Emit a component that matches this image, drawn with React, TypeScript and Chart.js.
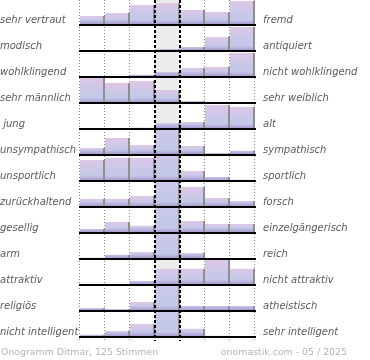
import React, { useEffect, useRef } from 'react';
import { Chart, registerables } from 'chart.js';

Chart.register(...registerables);

// Left / right poles of each semantic differential row
const leftLabels = [
  'sehr vertraut', 'modisch', 'wohlklingend', 'sehr männlich', ' jung', 'unsympathisch',
  'unsportlich', 'zurückhaltend', 'gesellig', 'arm', 'attraktiv', 'religiös', 'nicht intelligent',
];
const rightLabels = [
  'fremd', 'antiquiert', 'nicht wohlklingend', 'sehr weiblich', 'alt', 'sympathisch',
  'sportlich', 'forsch', 'einzelgängerisch', 'reich', 'nicht attraktiv', 'atheistisch', 'sehr intelligent',
];
const steps = ['1', '2', '3', '4', '5', '6', '7'];

// Bar heights per row (row full height = 25, higher values are cut off)
const vertraut = [9, 12, 20, 22, 15, 13, 24];
const modisch = [0, 0, 0, 2, 4, 14, 24];
const wohlklingend = [0, 1, 2.5, 5, 9, 10, 24];
const maennlich = [25, 20, 22, 13, 2, 0, 0];
const jung = [0, 0, 1.5, 6, 7, 24, 22];
const unsympathisch = [7, 17, 10, 45, 9, 2, 4.5];
const unsportlich = [21, 23.5, 23.5, 45, 10, 4, 1.5];
const zurueckhaltend = [8, 8, 11, 45, 20, 9, 6];
const gesellig = [4, 11, 7.5, 45, 12, 9, 9];
const arm = [1.5, 4.5, 7, 45, 6, 0, 0];
const attraktiv = [0, 0, 4, 16, 16.5, 25, 16.5];
const religioes = [3, 2, 9, 45, 5, 5, 5];
const intelligent = [2.5, 6, 13, 45, 8.5, 1.5, 0];

const rows = [
  vertraut, modisch, wohlklingend, maennlich, jung, unsympathisch, unsportlich,
  zurueckhaltend, gesellig, arm, attraktiv, religioes, intelligent,
];

const ROW = 26;
const MAXH = 25;
const N = rows.length;
const YMAX = N * ROW;
const rowBase = (i: number) => (N - 1 - i) * ROW + 1;
const LABEL_OFFSET = 4.5;

const fontLabel = { family: 'DejaVu Sans', size: 10, style: 'italic' as const };

const decor = {
  id: 'decor',
  beforeDatasetsDraw(chart: any) {
    const { ctx, chartArea: a } = chart;
    const w = (a.right - a.left) / 7;
    ctx.save();
    ctx.fillStyle = '#ececec';
    ctx.fillRect(a.left + 3 * w, a.top, w, a.bottom - a.top);
    ctx.strokeStyle = '#8a8a8a';
    ctx.lineWidth = 1;
    ctx.setLineDash([1, 2]);
    [0, 1, 2, 5, 6, 7].forEach((k) => {
      const x = Math.round(a.left + k * w) - 0.5;
      ctx.beginPath();
      ctx.moveTo(x, a.top);
      ctx.lineTo(x, a.bottom + 3);
      ctx.stroke();
    });
    ctx.restore();
  },
  afterDatasetsDraw(chart: any) {
    const { ctx, chartArea: a, scales } = chart;
    const w = (a.right - a.left) / 7;
    ctx.save();
    ctx.fillStyle = '#000';
    rows.forEach((_, i) => {
      const y = scales.y.getPixelForValue(rowBase(i));
      ctx.fillRect(a.left - 1, y - 1, a.right - a.left + 2, 2);
    });
    ctx.strokeStyle = '#000';
    ctx.lineWidth = 2;
    ctx.setLineDash([3, 2]);
    [3, 4].forEach((k) => {
      const x = Math.round(a.left + k * w);
      ctx.beginPath();
      ctx.moveTo(x, a.top);
      ctx.lineTo(x, a.bottom + 3);
      ctx.stroke();
    });
    ctx.restore();
  },
};

function barGradient(c: any, rowIndex: number) {
  const chart = c.chart;
  const ys = chart.scales && chart.scales.y;
  if (!ys || c.type !== 'data') return '#c4c9e8';
  const v = rows[rowIndex][c.dataIndex];
  const base = rowBase(rowIndex);
  const yb = ys.getPixelForValue(base);
  const yt = ys.getPixelForValue(base + v);
  const h = yb - yt;
  if (!isFinite(h) || h <= 0.5) return '#a898cc';
  const g = chart.ctx.createLinearGradient(0, yt, 0, yb);
  const p = Math.max(0, (h - 5) / h);
  g.addColorStop(0, '#dfc6e6');
  g.addColorStop(Math.min(0.5, p), '#c9c8e8');
  g.addColorStop(p, '#c2c8e8');
  g.addColorStop(1, '#a290c8');
  return g;
}

function rowTicks(axis: any) {
  axis.ticks = rows.map((_, i) => ({ value: rowBase(i) + LABEL_OFFSET }));
}

export default function App() {
  const ref = useRef<HTMLCanvasElement | null>(null);

  useEffect(() => {
    if (!ref.current) return;
    const datasets = rows.map((vals, i) => ({
      label: leftLabels[i],
      data: vals.map((v) => [rowBase(i), rowBase(i) + Math.min(v, MAXH)]),
      backgroundColor: (c: any) => barGradient(c, i),
      borderColor: '#8e8e8e',
      borderWidth: { top: 0, left: 0, bottom: 0, right: 2 },
      borderSkipped: false,
      grouped: false,
      barPercentage: 1,
      categoryPercentage: 1,
      inflateAmount: 0,
    }));
    const chart = new Chart(ref.current, {
      type: 'bar',
      data: { labels: steps, datasets: datasets as any },
      options: {
        animation: false,
        responsive: true,
        maintainAspectRatio: false,
        layout: { padding: { top: 0, bottom: 22, left: 0, right: 0 } },
        plugins: { legend: { display: false }, tooltip: { enabled: false } },
        scales: {
          x: { display: false, offset: true, grid: { display: false } },
          y: {
            position: 'left',
            min: 0,
            max: YMAX,
            grid: { display: false, drawTicks: false },
            border: { display: false },
            afterBuildTicks: rowTicks,
            afterFit: (axis: any) => {
              axis.width = 80;
              axis.paddingTop = 0;
              axis.paddingBottom = 0;
            },
            ticks: {
              autoSkip: false,
              crossAlign: 'far',
              padding: 3,
              color: '#5a5a5a',
              font: fontLabel,
              callback: (_v: any, idx: number) => leftLabels[idx],
            },
          },
          y2: {
            position: 'right',
            min: 0,
            max: YMAX,
            grid: { display: false, drawTicks: false },
            border: { display: false },
            afterBuildTicks: rowTicks,
            afterFit: (axis: any) => {
              axis.width = 115;
              axis.paddingTop = 0;
              axis.paddingBottom = 0;
            },
            ticks: {
              autoSkip: false,
              crossAlign: 'near',
              padding: 8,
              color: '#5a5a5a',
              font: fontLabel,
              callback: (_v: any, idx: number) => rightLabels[idx],
            },
          },
        },
      } as any,
      plugins: [decor],
    });
    return () => chart.destroy();
  }, []);

  const footer: React.CSSProperties = {
    position: 'absolute',
    top: 347,
    fontFamily: 'DejaVu Sans',
    fontSize: '9.4px',
    lineHeight: 1,
    color: '#b4b4b4',
    whiteSpace: 'nowrap',
  };

  return (
    <div style={{ position: 'fixed', left: 0, top: 0, width: 370, height: 360, background: '#fff' }}>
      <canvas ref={ref} />
      <div style={{ ...footer, left: 1 }}>Onogramm Ditmar, 125 Stimmen</div>
      <div style={{ ...footer, right: 23 }}>onomastik.com - 05 / 2025</div>
    </div>
  );
}
